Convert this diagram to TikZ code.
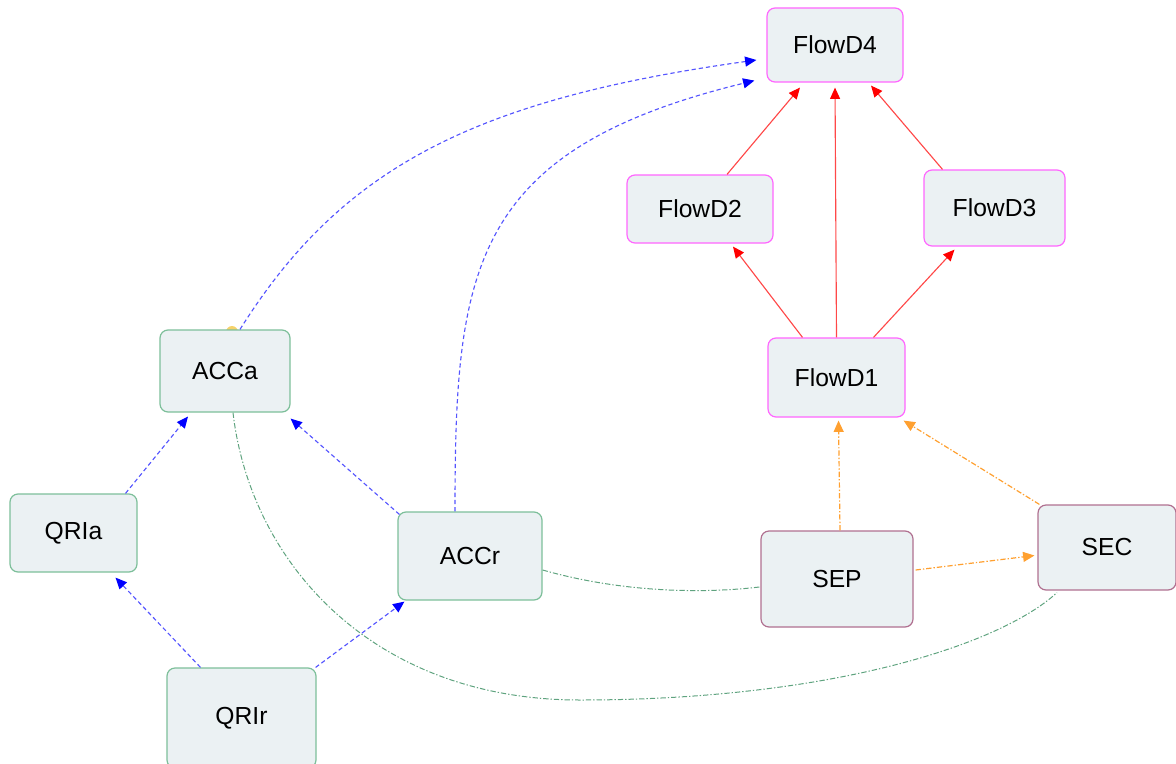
\documentclass[tikz,border=0pt]{standalone}
\usepackage{fontspec}
\setmainfont{Liberation Sans}
\usetikzlibrary{arrows.meta,calc}
\definecolor{nfill}{HTML}{EBF1F3}
\definecolor{gborder}{HTML}{7DBF9A}
\definecolor{mborder}{HTML}{FF66FF}
\definecolor{pborder}{HTML}{B07090}
\definecolor{bline}{HTML}{5555FF}
\definecolor{rline}{HTML}{FF4848}
\definecolor{oline}{HTML}{FFA030}
\definecolor{gline}{HTML}{5FA37F}
\definecolor{ydot}{HTML}{F5D26A}
\tikzset{
  box/.style={rectangle, rounded corners=6pt, fill=nfill, line width=0.9pt,
    font=\fontsize{18.5}{22}\selectfont, inner sep=0pt},
  gbox/.style={box, draw=gborder},
  mbox/.style={box, draw=mborder},
  pbox/.style={box, draw=pborder},
  bdash/.style={draw=bline, line width=0.85pt, dash pattern=on 3.2pt off 2.2pt,
    -{Triangle[length=8.5pt,width=7.5pt,color=blue,fill=blue]}},
  rsolid/.style={draw=rline, line width=0.85pt,
    -{Triangle[length=8.5pt,width=7.5pt,color=red,fill=red]}},
  odash/.style={draw=oline, line width=0.9pt, dash pattern=on 4pt off 1.5pt on 1pt off 1.5pt,
    -{Triangle[length=8.5pt,width=7.5pt,color=oline,fill=oline]}},
  gdash/.style={draw=gline, line width=0.75pt, dash pattern=on 4pt off 1.5pt on 1pt off 1.5pt},
}
\begin{document}
\begin{tikzpicture}[x=0.75pt,y=-0.75pt]
\useasboundingbox (0,0) rectangle (1176,763);
\fill[ydot] (232,332) circle (6);
% nodes
\node[mbox, minimum width=102pt, minimum height=55.5pt] (FlowD4) at (835,45) {FlowD4};
\node[mbox, minimum width=109.5pt, minimum height=51pt] (FlowD2) at (700,209) {FlowD2};
\node[mbox, minimum width=105.75pt, minimum height=57pt] (FlowD3) at (994.5,208) {FlowD3};
\node[mbox, minimum width=102.75pt, minimum height=59.25pt] (FlowD1) at (836.5,377.5) {FlowD1};
\node[gbox, minimum width=97.5pt, minimum height=61.5pt] (ACCa) at (225,371) {ACCa};
\node[gbox, minimum width=95.25pt, minimum height=58.5pt] (QRIa) at (73.5,533) {QRIa};
\node[gbox, minimum width=108pt, minimum height=66pt] (ACCr) at (470,556) {ACCr};
\node[pbox, minimum width=114pt, minimum height=72pt] (SEP) at (837,579) {SEP};
\node[pbox, minimum width=103.5pt, minimum height=63.75pt] (SEC) at (1107,547.5) {SEC};
\node[gbox, minimum width=111.75pt, minimum height=75pt] (QRIr) at (241.5,718) {QRIr};
% green undirected
\draw[gdash] ($(ACCr.east)+(0,14)$) .. controls (620,592) and (700,594) .. ($(SEP.west)+(-1,8)$);
\draw[gdash] ($(ACCa.south)+(8,0)$) .. controls (250,560) and (370,700) .. (580,700)
  .. controls (830,700) and (1000,645) .. ($(SEC.south)+(-50,2)$);
% blue
\draw[bdash] ($(ACCa.north)+(15,0)$) .. controls (340,170) and (470,100) .. ($(FlowD4.west)+(-10,15)$);
\draw[bdash] ($(ACCr.north)+(-15,0)$) .. controls (455,270) and (470,150) .. ($(FlowD4.south west)+(-12,-2)$);
\draw[bdash] ($(QRIa.north)+(52,0)$) -- ($(ACCa.south)+(-37,4)$);
\draw[bdash] ($(ACCr.north west)+(2,3)$) -- ($(ACCa.south east)+(0,6)$);
\draw[bdash] ($(QRIr.north)+(-41,0)$) -- ($(QRIa.south)+(42,5)$);
\draw[bdash] ($(QRIr.north east)+(-1,0)$) -- ($(ACCr.south west)+(7,1)$);
% red
\draw[rsolid] ($(FlowD2.north)+(27,0)$) -- ($(FlowD4.south)+(-35,5)$);
\draw[rsolid] (FlowD1.north) -- ($(FlowD4.south)+(0,5)$);
\draw[rsolid] ($(FlowD3.north)+(-52,0)$) -- ($(FlowD4.south)+(36,3)$);
\draw[rsolid] ($(FlowD1.north)+(-34,0)$) -- ($(FlowD2.south)+(33,3)$);
\draw[rsolid] ($(FlowD1.north)+(37,0)$) -- ($(FlowD3.south)+(-40,3)$);
% orange
\draw[odash] ($(SEP.north)+(3,0)$) -- ($(FlowD1.south)+(2,3)$);
\draw[odash] ($(SEC.north west)+(2,0)$) -- ($(FlowD1.south east)+(-2,3)$);
\draw[odash] ($(SEP.east)+(2,-9)$) -- ($(SEC.west)+(-3,8)$);
\end{tikzpicture}
\end{document}
